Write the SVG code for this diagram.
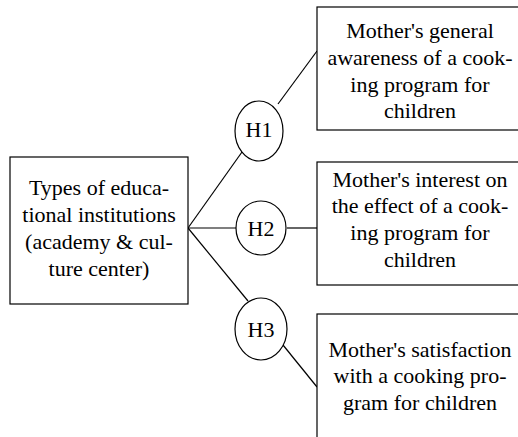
<svg xmlns="http://www.w3.org/2000/svg" width="518" height="437" viewBox="0 0 518 437">
<style>
.box{fill:#fff;stroke:#000;stroke-width:1.2}
.ell{fill:#fff;stroke:#000;stroke-width:1.2}
.con line{stroke:#000;stroke-width:1.2}
.t{font-size:22px;fill:#000;text-anchor:middle}
</style>
<rect width="518" height="437" fill="#fff"/>
<g class="con" id="connectors">
<line x1="188" y1="228" x2="242" y2="152"/>
<line x1="188" y1="228" x2="236" y2="228"/>
<line x1="188" y1="228" x2="248" y2="301"/>
<line x1="278" y1="104" x2="317" y2="51"/>
<line x1="287" y1="228" x2="317" y2="228"/>
<line x1="283" y1="345" x2="317" y2="387"/>
</g>
<g font-family="'Liberation Serif', Tinos, 'Times New Roman', 'Nimbus Roman', 'DejaVu Serif', serif">
<g id="source">
<rect class="box" x="10" y="157" width="178" height="147"/>
<text class="t" x="99" y="195">Types of educa-</text>
<text class="t" x="99" y="222">tional institutions</text>
<text class="t" x="99" y="249">(academy &amp; cul-</text>
<text class="t" x="99" y="276">ture center)</text>
</g>
<g id="h1">
<ellipse class="ell" cx="259" cy="131" rx="24" ry="30"/>
<text class="t" x="259" y="137">H1</text>
</g>
<g id="h2">
<ellipse class="ell" cx="261" cy="228" rx="25" ry="27"/>
<text class="t" x="261" y="236">H2</text>
</g>
<g id="h3">
<ellipse class="ell" cx="261" cy="329" rx="26" ry="31"/>
<text class="t" x="261" y="337">H3</text>
</g>
<g id="awareness">
<rect class="box" x="317" y="7" width="210" height="123"/>
<text class="t" x="420" y="38">Mother's general</text>
<text class="t" x="420" y="65">awareness of a cook-</text>
<text class="t" x="420" y="92">ing program for</text>
<text class="t" x="420" y="118">children</text>
</g>
<g id="interest">
<rect class="box" x="317" y="162" width="210" height="123"/>
<text class="t" x="420" y="187">Mother's interest on</text>
<text class="t" x="420" y="213">the effect of a cook-</text>
<text class="t" x="420" y="240">ing program for</text>
<text class="t" x="420" y="267">children</text>
</g>
<g id="satisfaction">
<rect class="box" x="317" y="314" width="210" height="140"/>
<text class="t" x="420" y="357">Mother's satisfaction</text>
<text class="t" x="420" y="383">with a cooking pro-</text>
<text class="t" x="420" y="410">gram for children</text>
</g>
</g>
</svg>
